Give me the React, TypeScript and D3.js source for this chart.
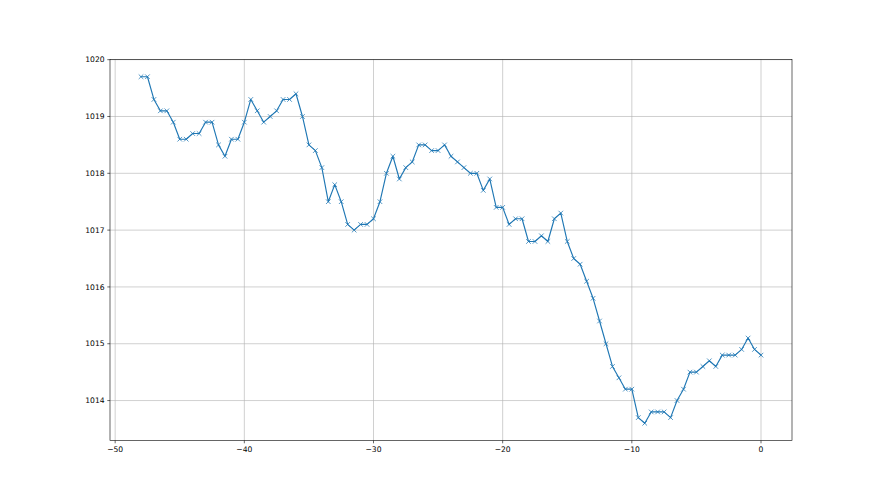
import React from "react";
import * as d3 from "d3";

const xValues: number[] = d3.range(-48, 0.001, 0.5).map((v) => +v.toFixed(1));
const pressure: number[] = [
  1019.7, 1019.7, 1019.3, 1019.1, 1019.1, 1018.9, 1018.6, 1018.6, 1018.7, 1018.7,
  1018.9, 1018.9, 1018.5, 1018.3, 1018.6, 1018.6, 1018.9, 1019.3, 1019.1, 1018.9,
  1019.0, 1019.1, 1019.3, 1019.3, 1019.4, 1019.0, 1018.5, 1018.4, 1018.1, 1017.5,
  1017.8, 1017.5, 1017.1, 1017.0, 1017.1, 1017.1, 1017.2, 1017.5, 1018.0, 1018.3,
  1017.9, 1018.1, 1018.2, 1018.5, 1018.5, 1018.4, 1018.4, 1018.5, 1018.3, 1018.2,
  1018.1, 1018.0, 1018.0, 1017.7, 1017.9, 1017.4, 1017.4, 1017.1, 1017.2, 1017.2,
  1016.8, 1016.8, 1016.9, 1016.8, 1017.2, 1017.3, 1016.8, 1016.5, 1016.4, 1016.1,
  1015.8, 1015.4, 1015.0, 1014.6, 1014.4, 1014.2, 1014.2, 1013.7, 1013.6, 1013.8,
  1013.8, 1013.8, 1013.7, 1014.0, 1014.2, 1014.5, 1014.5, 1014.6, 1014.7, 1014.6,
  1014.8, 1014.8, 1014.8, 1014.9, 1015.1, 1014.9, 1014.8,
];
const xTicks: number[] = [-50, -40, -30, -20, -10, 0];
const yTicks: number[] = [1014, 1015, 1016, 1017, 1018, 1019, 1020];

const W = 880;
const H = 495;
const left = 110;
const right = 792;
const top = 59.4;
const bottom = 440.6;
const color = "#1f77b4";
const font = "DejaVu Sans";
const fs = 7.6;

export default function App() {
  const xmin = d3.min(xValues)!;
  const xmax = d3.max(xValues)!;
  const ymin = d3.min(pressure)!;
  const ymax = d3.max(pressure)!;
  const xm = (xmax - xmin) * 0.05;
  const ym = (ymax - ymin) * 0.05;
  const x = d3.scaleLinear().domain([xmin - xm, xmax + xm]).range([left, right]);
  const y = d3.scaleLinear().domain([ymin - ym, ymax + ym]).range([bottom, top]);
  const pts: [number, number][] = xValues.map((v, i) => [x(v), y(pressure[i])]);
  const line = d3.line()(pts) || "";
  const ms = 2.3;
  const fmt = (v: number) => (v < 0 ? "\u2212" + Math.abs(v) : String(v));
  return (
    <svg
      width={W}
      height={H}
      style={{ position: "absolute", left: 0, top: 0, background: "#fff" }}
      fontFamily={font}
    >
      <rect x={0} y={0} width={W} height={H} fill="#fff" />
      {xTicks.map((t) => (
        <line key={"gx" + t} x1={x(t)} x2={x(t)} y1={top} y2={bottom} stroke="#b0b0b0" strokeWidth={0.6} />
      ))}
      {yTicks.map((t) => (
        <line key={"gy" + t} x1={left} x2={right} y1={y(t)} y2={y(t)} stroke="#b0b0b0" strokeWidth={0.6} />
      ))}
      <path d={line} fill="none" stroke={color} strokeWidth={1.15} strokeLinejoin="round" strokeLinecap="square" />
      {pts.map(([px, py], i) => (
        <path
          key={"m" + i}
          d={`M${px - ms},${py - ms}L${px + ms},${py + ms}M${px - ms},${py + ms}L${px + ms},${py - ms}`}
          stroke={color}
          strokeWidth={0.76}
          fill="none"
        />
      ))}
      <rect x={left} y={top} width={right - left} height={bottom - top} fill="none" stroke="#000" strokeWidth={0.6} />
      {xTicks.map((t) => (
        <g key={"xt" + t}>
          <line x1={x(t)} x2={x(t)} y1={bottom} y2={bottom + 2.7} stroke="#000" strokeWidth={0.6} />
          <text x={x(t)} y={bottom + 5.4 + fs * 0.76} textAnchor="middle" fontSize={fs} fill="#000">
            {fmt(t)}
          </text>
        </g>
      ))}
      {yTicks.map((t) => (
        <g key={"yt" + t}>
          <line x1={left - 2.7} x2={left} y1={y(t)} y2={y(t)} stroke="#000" strokeWidth={0.6} />
          <text x={left - 5.4} y={y(t)} dy="0.36em" textAnchor="end" fontSize={fs} fill="#000">
            {t}
          </text>
        </g>
      ))}
    </svg>
  );
}
